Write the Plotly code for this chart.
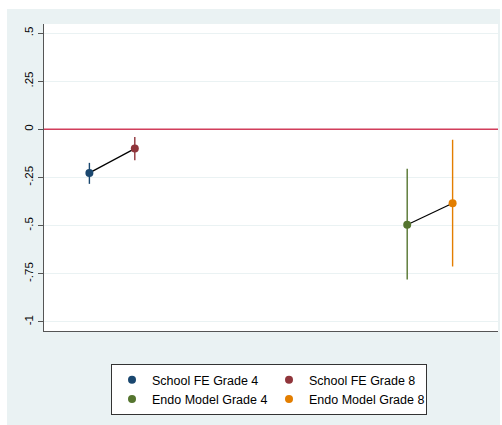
import plotly.graph_objects as go

# Point estimates with 95% confidence intervals
labels = ["School FE Grade 4", "School FE Grade 8", "Endo Model Grade 4", "Endo Model Grade 8"]
positions = [1, 2, 8, 9]
estimates = [-0.226, -0.100, -0.495, -0.384]
ci_low = [-0.283, -0.161, -0.780, -0.712]
ci_high = [-0.174, -0.040, -0.205, -0.054]
colors = ["#1A476F", "#90353B", "#55752F", "#E37E00"]

tick_vals = [0.5, 0.25, 0, -0.25, -0.5, -0.75, -1]
tick_text = [".5", ".25", "0", "-.25", "-.5", "-.75", "-1"]

BG = "#EAF2F3"
FONT = "Liberation Sans, Arial, sans-serif"

fig = go.Figure()

# black segments joining grade 4 and grade 8 within each model
for i in (0, 2):
    fig.add_trace(go.Scatter(
        x=positions[i:i + 2], y=estimates[i:i + 2], mode="lines",
        line=dict(color="black", width=1.2), showlegend=False, hoverinfo="skip",
    ))

for i, name in enumerate(labels):
    fig.add_trace(go.Scatter(
        x=[positions[i]], y=[estimates[i]], mode="markers", name=name,
        marker=dict(color=colors[i], size=8),
        error_y=dict(
            type="data", symmetric=False,
            array=[ci_high[i] - estimates[i]],
            arrayminus=[estimates[i] - ci_low[i]],
            color=colors[i], thickness=1.4, width=0,
        ),
    ))

# reference line at zero
fig.add_shape(type="line", xref="paper", yref="y", x0=0, x1=1, y0=0, y1=0,
              line=dict(color="#D13D5B", width=1.5), layer="above")

# outer background panel, then the white plotting region on top of it
fig.add_shape(type="rect", xref="paper", yref="paper",
              x0=-0.0815, x1=1.0044, y0=-0.306, y1=1.0489,
              fillcolor=BG, line=dict(width=0), layer="below")
fig.add_shape(type="rect", xref="paper", yref="paper",
              x0=0, x1=1, y0=0, y1=1,
              fillcolor="white", line=dict(width=0), layer="below")

fig.update_layout(
    width=502, height=425,
    margin=dict(l=44, r=4, t=24, b=94, autoexpand=False),
    paper_bgcolor="white", plot_bgcolor="white",
    font=dict(family=FONT, size=12, color="black"),
    xaxis=dict(range=[0, 10], showgrid=False, zeroline=False, showticklabels=False,
               ticks="", showline=True, linecolor="#555555", linewidth=1.2),
    yaxis=dict(range=[-1.047, 0.547], tickvals=tick_vals, ticktext=tick_text,
               tickangle=-90, ticks="outside", ticklen=5, tickcolor="#555555",
               showgrid=True, gridcolor=BG, gridwidth=1, zeroline=False,
               showline=True, linecolor="#555555", linewidth=1.2,
               tickfont=dict(size=11.5, color="black")),
    legend=dict(orientation="h", x=0.1476, y=-0.1075, xanchor="left", yanchor="top",
                bgcolor="white", bordercolor="#333333", borderwidth=1,
                entrywidth=112, entrywidthmode="pixels",
                font=dict(size=12.5, color="black")),
    showlegend=True,
)

fig.write_html("out.html")
